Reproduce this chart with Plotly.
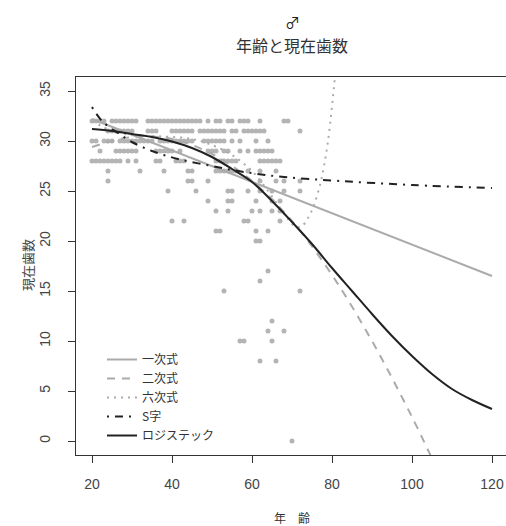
import plotly.graph_objects as go

# ---- scatter data: ages observed at each number of present teeth ----
ages_32 = [20,21,22,23,25,26,27,28,29,30,31,34,35,36,37,38,39,40,41,42,43,44,45,46,47,49,51,52,54,55,57,58,59,62,68,69]
ages_31 = [24,25,26,27,28,29,30,34,35,36,40,41,42,43,44,45,47,48,49,50,51,52,53,55,56,58,59,60,61,62,63,72]
ages_30 = [20,21,23,24,25,27,28,29,30,31,32,33,34,35,37,38,39,40,41,42,43,44,45,48,49,50,51,52,53,55,57,61,64]
ages_29 = [22,26,27,28,29,30,31,36,37,38,39,40,42,49,50,51,53,54,57,59,61,62,63,64,65]
ages_28 = [20,21,22,23,24,25,26,27,29,31,36,37,41,42,43,51,52,53,54,55,56,62,63,64,65,66,67]
ages_27 = [24,32,38,44,45,51,52,53,54,55,56,59,62,66]
ages_26 = [24,44,45,49,62,66,68,72]
ages_25 = [39,46,54,55,59,62,65,68,72]
ages_24 = [49,54,55,61,65,67]
ages_23 = [51,54,60,62,65,67]
ages_22 = [40,43,58,59,67]
ages_21 = [51,52,61,64]
ages_20 = [61,62]
ages_17 = [64]
ages_16 = [62]
ages_15 = [53,72]
ages_12 = [65]
ages_11 = [64,68]
ages_10 = [57,58,65]
ages_8 = [62,66]
ages_0 = [70]

teeth_rows = [
    (32, ages_32), (31, ages_31), (30, ages_30), (29, ages_29), (28, ages_28),
    (27, ages_27), (26, ages_26), (25, ages_25), (24, ages_24), (23, ages_23),
    (22, ages_22), (21, ages_21), (20, ages_20), (17, ages_17), (16, ages_16),
    (15, ages_15), (12, ages_12), (11, ages_11), (10, ages_10), (8, ages_8), (0, ages_0),
]

# ---- fitted curves ----
lin_age = [20, 120]
lin_val = [32.2, 16.5]

quad_age = [20, 30, 40, 50, 60, 70, 80, 90, 100, 106]
quad_val = [29.4, 30.4, 30.2, 28.7, 26.0, 22.0, 16.6, 10.0, 2.4, -2.6]

sext_age = [20, 25, 30, 35, 40, 45, 50, 55, 60, 64, 67, 69, 71, 72.5, 74, 75.5, 77, 78, 79, 80, 81, 82]
sext_val = [32.0, 31.0, 30.6, 30.5, 30.4, 30.2, 29.6, 28.6, 27.0, 25.0, 23.3, 22.2, 21.4, 21.5, 22.3, 23.6, 25.6, 27.5, 30.0, 33.5, 37.5, 42.0]

s_age = [20, 22.5, 26.5, 30, 35, 41.5, 50, 58, 68, 82, 100, 120]
s_val = [33.4, 32.0, 30.8, 29.9, 29.0, 28.2, 27.5, 26.9, 26.4, 26.0, 25.6, 25.3]

logi_age = [20, 25, 30, 35, 40, 45, 50, 55, 60, 65, 70, 75, 80, 85, 90, 95, 100, 105, 110, 115, 120]
logi_val = [31.2, 31.0, 30.7, 30.4, 29.95, 29.3, 28.4, 27.2, 25.9, 24.0, 21.9, 19.7, 17.3, 15.0, 12.7, 10.5, 8.5, 6.7, 5.2, 4.1, 3.2]

legend_names = ["一次式", "二次式", "六次式", "S字", "ロジステック"]
x_ticks = [20, 40, 60, 80, 100, 120]
y_ticks = [0, 5, 10, 15, 20, 25, 30, 35]

W, H = 506, 526
L, R, T, B = 76, 0, 77, 71
pw, ph = W - L - R, H - T - B
x_range = [16, 16 + pw / 4.0]
y_range = [-1.4, 36.4]

def py(pix):
    return (H - B - pix) / ph

def px(pix):
    return (pix - L) / pw

pt_x, pt_y = [], []
for t, ages in teeth_rows:
    for a in ages:
        pt_x.append(a)
        pt_y.append(t)

CJK = "Noto Sans CJK JP"
GRAY = "#ababab"
DARK = "#222222"

fig = go.Figure()
fig.add_trace(go.Scatter(x=pt_x, y=pt_y, mode="markers",
                         marker=dict(size=5, color="#b4b4b4", line=dict(width=0)),
                         showlegend=False, hoverinfo="skip"))
fig.add_trace(go.Scatter(x=lin_age, y=lin_val, mode="lines", name=legend_names[0],
                         line=dict(color=GRAY, width=2)))
fig.add_trace(go.Scatter(x=quad_age, y=quad_val, mode="lines", name=legend_names[1],
                         line=dict(color=GRAY, width=2, dash="8px,7px", shape="spline")))
fig.add_trace(go.Scatter(x=sext_age, y=sext_val, mode="lines", name=legend_names[2],
                         line=dict(color=GRAY, width=2, dash="2px,5px", shape="spline")))
fig.add_trace(go.Scatter(x=s_age, y=s_val, mode="lines", name=legend_names[3],
                         line=dict(color=DARK, width=2, dash="2px,6px,8px,6px", shape="spline")))
fig.add_trace(go.Scatter(x=logi_age, y=logi_val, mode="lines", name=legend_names[4],
                         line=dict(color=DARK, width=2, shape="spline")))

fig.update_layout(
    width=W, height=H,
    margin=dict(l=L, r=R, t=T, b=B, pad=0),
    paper_bgcolor="white", plot_bgcolor="white",
    showlegend=True,
    legend=dict(x=px(102), y=py(345), xanchor="left", yanchor="top",
                bgcolor="rgba(0,0,0,0)", borderwidth=0,
                font=dict(family=CJK, size=12, color="#333333"),
                tracegroupgap=0, itemwidth=30),
    xaxis=dict(range=x_range, tickvals=x_ticks, ticktext=[str(v) for v in x_ticks],
               showgrid=False, zeroline=False, showline=True, mirror=True,
               linecolor="#333333", linewidth=1, ticks="outside", ticklen=7,
               tickcolor="#333333", tickwidth=1, ticklabelstandoff=9,
               tickfont=dict(family="Liberation Sans", size=14, color="#444444")),
    yaxis=dict(range=y_range, tickvals=y_ticks, ticktext=[str(v) for v in y_ticks],
               showgrid=False, zeroline=False, showline=True, mirror=False,
               linecolor="#333333", linewidth=1, ticks="outside", ticklen=7,
               tickcolor="#333333", tickwidth=1, tickangle=-90, ticklabelstandoff=12,
               tickfont=dict(family="Liberation Sans", size=14, color="#444444")),
    annotations=[
        dict(text="♂", x=px(292), y=py(22), xref="paper", yref="paper",
             showarrow=False, xanchor="center", yanchor="middle",
             font=dict(family=CJK, size=15, color="#222222")),
        dict(text="年齢と現在歯数", x=px(292), y=py(45), xref="paper", yref="paper",
             showarrow=False, xanchor="center", yanchor="middle",
             font=dict(family=CJK, size=16, color="#333333")),
        dict(text="年　齢", x=px(292), y=py(517), xref="paper", yref="paper",
             showarrow=False, xanchor="center", yanchor="middle",
             font=dict(family=CJK, size=12, color="#333333")),
        dict(text="現在歯数", x=px(27), y=py(265), xref="paper", yref="paper",
             showarrow=False, xanchor="center", yanchor="middle", textangle=-90,
             font=dict(family=CJK, size=13, color="#444444")),
    ],
)

fig.write_html("out.html")
